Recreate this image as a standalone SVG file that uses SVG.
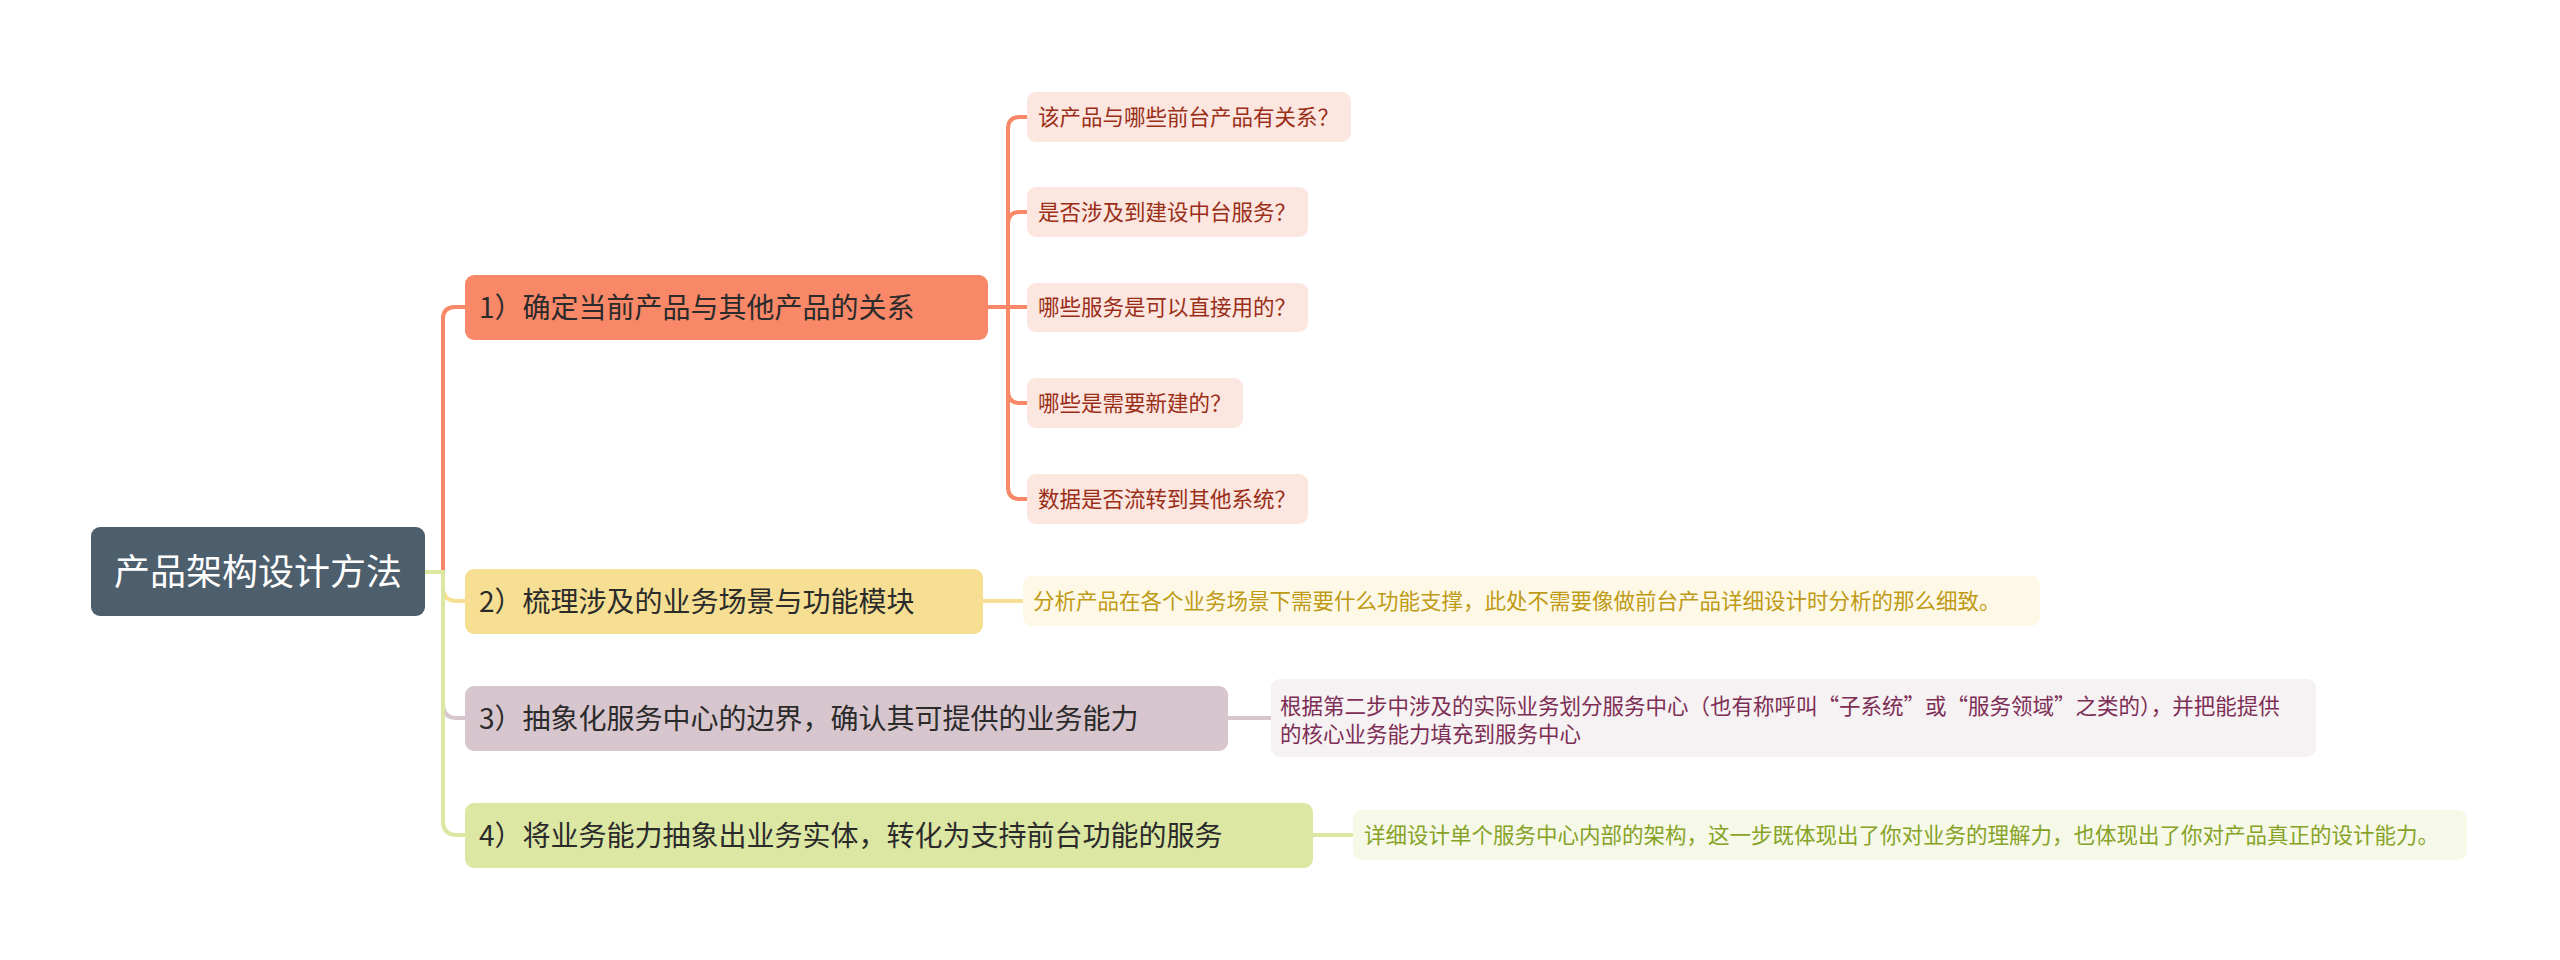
<svg xmlns="http://www.w3.org/2000/svg" width="2560" height="960" viewBox="0 0 2560 960">
<style>
text{font-family:"Noto Sans CJK SC","Noto Sans",sans-serif;}
.root-t{font-size:36px;fill:#ffffff;text-anchor:middle;}
.main-t{font-size:28px;fill:#2b2b2b;}
.sub-t{font-size:21.5px;fill:#9a2e17;}
.n2-t{font-size:21.5px;fill:#bf9a14;}
.n3-t{font-size:21.5px;fill:#7d2e55;}
.n4-t{font-size:21.5px;fill:#86a227;}
.ln{fill:none;stroke-width:4;stroke-linecap:round;stroke-linejoin:round;}
.or{stroke:#f98868;}
.ye{stroke:#f6df92;}
.mv{stroke:#d8c6ce;}
.gr{stroke:#dbe7a3;}
</style>
<rect width="2560" height="960" fill="#ffffff"/>
<g id="connectors">
<path class="ln or" d="M443,572 V319 Q443,307 455,307 H465"/>
<path class="ln ye" d="M443,572 V587 Q443,601 457,601 H465"/>
<path class="ln mv" d="M443,572 V704 Q443,718 457,718 H465"/>
<path class="ln gr" d="M425,572 H443 V821 Q443,835 457,835 H465"/>
<path class="ln or" d="M988,307 H1027"/>
<path class="ln or" d="M1027,117 H1020 Q1008,117 1008,129 V487 Q1008,499 1020,499 H1027"/>
<path class="ln or" d="M1008,224 Q1008,212 1020,212 H1027"/>
<path class="ln or" d="M1008,391 Q1008,403 1020,403 H1027"/>
<path class="ln ye" d="M983,601 H1023"/>
<path class="ln mv" d="M1228,718 H1271"/>
<path class="ln gr" d="M1313,835 H1353"/>
</g>
<g id="root">
<rect x="91" y="527" width="334" height="89" rx="9" fill="#4d5e6c"/>
<text class="root-t" x="258" y="585">产品架构设计方法</text>
</g>
<g id="n1">
<rect x="465" y="275" width="523" height="65" rx="9" fill="#f98868"/>
<text class="main-t" x="479" y="318">1）确定当前产品与其他产品的关系</text>
</g>
<g id="n1-1">
<rect x="1027" y="92" width="324" height="50" rx="9" fill="#fce6e0"/>
<text class="sub-t" x="1038" y="125">该产品与哪些前台产品有关系？</text>
</g>
<g id="n1-2">
<rect x="1027" y="187" width="281" height="50" rx="9" fill="#fce6e0"/>
<text class="sub-t" x="1038" y="220">是否涉及到建设中台服务？</text>
</g>
<g id="n1-3">
<rect x="1027" y="283" width="281" height="49" rx="9" fill="#fce6e0"/>
<text class="sub-t" x="1038" y="315">哪些服务是可以直接用的？</text>
</g>
<g id="n1-4">
<rect x="1027" y="378" width="216" height="50" rx="9" fill="#fce6e0"/>
<text class="sub-t" x="1038" y="411">哪些是需要新建的？</text>
</g>
<g id="n1-5">
<rect x="1027" y="474" width="281" height="50" rx="9" fill="#fce6e0"/>
<text class="sub-t" x="1038" y="507">数据是否流转到其他系统？</text>
</g>
<g id="n2">
<rect x="465" y="569" width="518" height="65" rx="9" fill="#f6df92"/>
<text class="main-t" x="479" y="612">2）梳理涉及的业务场景与功能模块</text>
</g>
<g id="n2-1">
<rect x="1023" y="576" width="1017" height="50" rx="9" fill="#fef9e7"/>
<text class="n2-t" x="1033" y="609">分析产品在各个业务场景下需要什么功能支撑，此处不需要像做前台产品详细设计时分析的那么细致。</text>
</g>
<g id="n3">
<rect x="465" y="686" width="763" height="65" rx="9" fill="#d8c6ce"/>
<text class="main-t" x="479" y="729">3）抽象化服务中心的边界，确认其可提供的业务能力</text>
</g>
<g id="n3-1">
<rect x="1271" y="679" width="1045" height="78" rx="9" fill="#f6f1f3"/>
<text class="n3-t" x="1280" y="714">根据第二步中涉及的实际业务划分服务中心（也有称呼叫“子系统”或“服务领域”之类的），并把能提供</text>
<text class="n3-t" x="1280" y="742">的核心业务能力填充到服务中心</text>
</g>
<g id="n4">
<rect x="465" y="803" width="848" height="65" rx="9" fill="#dbe7a3"/>
<text class="main-t" x="479" y="846">4）将业务能力抽象出业务实体，转化为支持前台功能的服务</text>
</g>
<g id="n4-1">
<rect x="1353" y="810" width="1114" height="50" rx="9" fill="#f6f9e8"/>
<text class="n4-t" x="1364" y="843">详细设计单个服务中心内部的架构，这一步既体现出了你对业务的理解力，也体现出了你对产品真正的设计能力。</text>
</g>
</svg>
